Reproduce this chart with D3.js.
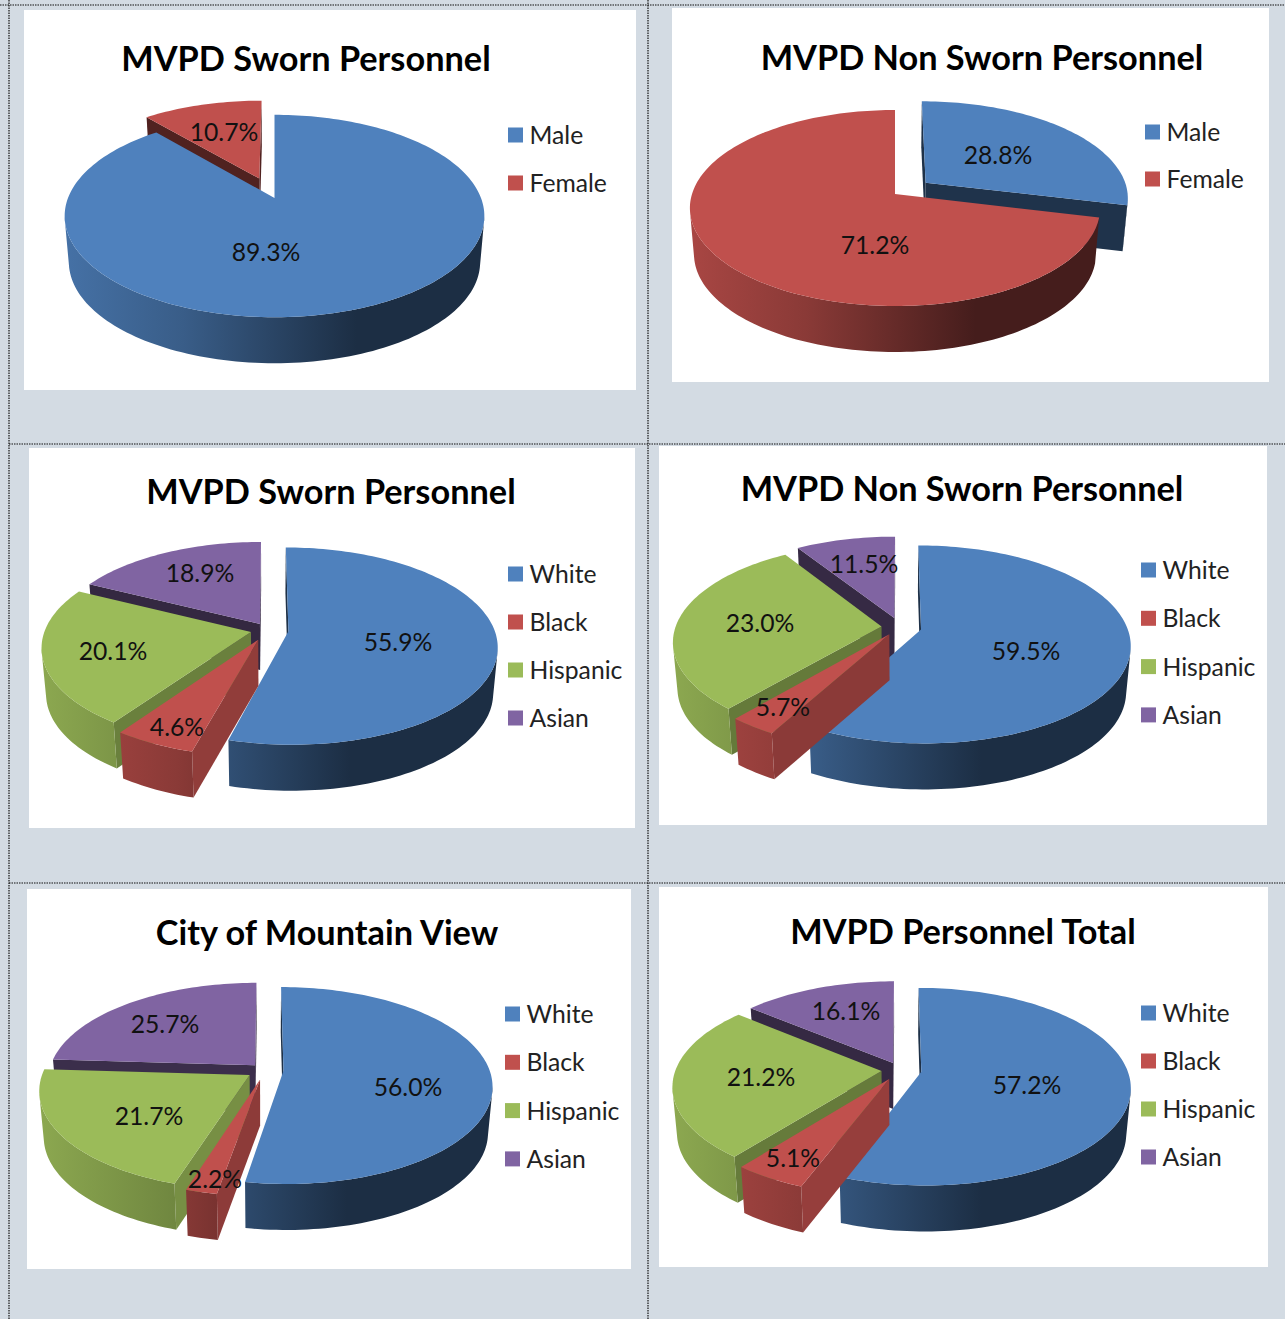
<!DOCTYPE html>
<html><head><meta charset="utf-8">
<script src="https://cdn.jsdelivr.net/npm/d3@7"></script>
<style>html,body{margin:0;padding:0;background:#d3dbe3;overflow:hidden}svg{display:block}text{font-family:Lato,"Open Sans",sans-serif}</style>
</head><body><div id="c"></div>
<script>
// ---- data ----
const sexCategories = ["Male","Female"];
const raceCategories = ["White","Black","Hispanic","Asian"];
const swornSex = [89.3,10.7];
const nonSwornSex = [28.8,71.2];
const swornRace = [55.9,4.6,20.1,18.9];
const nonSwornRace = [59.5,5.7,23.0,11.5];
const cityRace = [56.0,2.2,21.7,25.7];
const totalRace = [57.2,5.1,21.2,16.1];
const titles = ["MVPD Sworn Personnel","MVPD Non Sworn Personnel","MVPD Sworn Personnel","MVPD Non Sworn Personnel","City of Mountain View","MVPD Personnel Total"];
const sexColors = ["#4f81bd","#c0504d"];
const raceColors = ["#4f81bd","#c0504d","#9bbb59","#8064a2"];

// ---- layout ----
const layouts = [
 {vals:swornSex,cats:sexCategories,cols:sexColors,panel:[24,10,612,380],title:[306,59],cx:274.5,cy:198,R:206.5,Rk:98,p:.178,ex:[0,.22],shift:[0,-2],
  legend:[508,135,48],labels:[[266,252],[224,132]]},
 {vals:nonSwornSex,cats:sexCategories,cols:sexColors,panel:[672,8,597,374],title:[982,58],cx:895,cy:194,R:203,Rk:96,p:.143,ex:[.195,0],shift:[0,0],
  legend:[1145,132,47],labels:[[998,155],[875,245]]},
 {vals:swornRace,cats:raceCategories,cols:raceColors,panel:[29,448,606,380],title:[331,492],cx:268,cy:630,R:206,Rk:96,p:.15,ex:[.10,.11,.085,.075],shift:[0,-7,-4,5],
  legend:[508,574,48],labels:[[398,642],[177,727],[113,651],[200,573]]},
 {vals:nonSwornRace,cats:raceCategories,cols:raceColors,panel:[659,446,608,379],title:[962,489],cx:900,cy:627,R:206,Rk:96,p:.15,ex:[.105,.09,.09,.1],shift:[0,-6,-15,9],
  legend:[1141,570,48.3],labels:[[1026,651],[783,707],[760,623],[864,564]]},
 {vals:cityRace,cols:raceColors,cats:raceCategories,panel:[27,889,604,380],title:[327,933],cx:265,cy:1070,R:206,Rk:96,p:.15,ex:[.09,.1,.09,.07],shift:[0,-1,-1,1],
  legend:[505,1014,48.3],labels:[[408,1087],[215,1179],[149,1116],[165,1024]]},
 {vals:totalRace,cols:raceColors,cats:raceCategories,panel:[659,887,609,380],title:[963,932],cx:900,cy:1070,R:206,Rk:96,p:.15,ex:[.105,.105,.09,.08],shift:[0,-6,-7,8],
  legend:[1141,1013,48],labels:[[1027,1085],[793,1158],[761,1077],[846,1011]]}
];
const DEPTH = 46, BOTTOM_SCALE = .98, D2R = Math.PI/180;

const svg = d3.select("#c").append("svg").attr("width",1285).attr("height",1319);
const defs = svg.append("defs");
svg.append("rect").attr("width",1285).attr("height",1319).attr("fill","#d3dbe3");

const line = d3.line();
const cutShade = d3.scaleLinear().domain([100,201,218,290,321]).range([.38,.78,.66,.4,.42]).clamp(true);
const shade = (c,f)=>{const q=d3.rgb(c);return d3.rgb(q.r*f,q.g*f,q.b*f).formatHex();};
const cross = (a,b,c)=>(b[0]-a[0])*(c[1]-a[1])-(b[1]-a[1])*(c[0]-a[0]);
// true when moving straight down from edge a→b leaves the side on which point inner lies
const facesViewer = (a,b,inner)=>{
  const down=[a[0],a[1]+10];
  return cross(a,b,down)*cross(a,b,inner)<0;
};
const oriented = q=> d3.polygonArea(q)<0 ? q.slice().reverse() : q;

layouts.forEach((L,ci)=>{
  const g = svg.append("g");
  g.append("rect").attr("x",L.panel[0]).attr("y",L.panel[1]).attr("width",L.panel[2]).attr("height",L.panel[3]).attr("fill","#fff");
  g.append("text").attr("x",L.title[0]).attr("y",L.title[1]).attr("dy",".36em").attr("text-anchor","middle")
    .attr("font-size",34.3).attr("font-weight",700).attr("fill","#000").text(titles[ci]);

  const pie = d3.pie().sort(null).value(d=>d).startAngle(0).endAngle(2*Math.PI);
  const arcs = pie(L.vals).map((a,i,all)=>{
    const s0 = a.startAngle + L.shift[i]*D2R;
    const s1 = i+1<all.length ? a.endAngle + L.shift[i+1]*D2R : a.endAngle;
    return {i,s0,s1,mid:(s0+s1)/2};
  });
  const project = (u,v)=>{const s=1/(1-L.p*v);return [L.cx+L.R*u*s, L.cy+L.Rk*v*s];};
  const low = q=>[L.cx+(q[0]-L.cx)*BOTTOM_SCALE, q[1]+DEPTH];
  const minX=L.cx-L.R*1.1,maxX=L.cx+L.R*1.1;

  arcs.forEach(a=>{
    const gr=defs.append("linearGradient").attr("id",`g${ci}_${a.i}`).attr("gradientUnits","userSpaceOnUse")
      .attr("x1",minX).attr("x2",maxX).attr("y1",0).attr("y2",0);
    [[0,.9],[.3,.72],[.68,.36],[1,.36]].forEach(s=>gr.append("stop").attr("offset",s[0]).attr("stop-color",shade(L.cols[a.i],s[1])));
  });

  const order = arcs.slice().sort((a,b)=>(-Math.cos(a.mid))-(-Math.cos(b.mid)));
  const pg = g.append("g");
  order.forEach(a=>{
    const e=L.ex[a.i], ou=e*Math.sin(a.mid), ov=-e*Math.cos(a.mid);
    const n=Math.max(2,Math.ceil((a.s1-a.s0)/(1.5*D2R)));
    const rim=d3.range(n+1).map(k=>{const t=a.s0+(a.s1-a.s0)*k/n;return project(ou+Math.sin(t),ov-Math.cos(t));});
    const apex=project(ou,ov), inner=rim[Math.floor(n/2)];
    const c=L.cols[a.i];
    [[rim[0],a.s0],[rim[n],a.s1]].forEach(([tip,ang])=>{
      if(!facesViewer(apex,tip,inner)) return;
      pg.append("path").attr("d",line([apex,tip,low(tip),low(apex)])+"Z").attr("fill",shade(c,cutShade(ang/D2R)));
    });
    // outer wall: swept quads for the rim segments that face the viewer
    let d="";
    for(let k=0;k<n;k++){
      const A=rim[k],B=rim[k+1];
      if(!facesViewer(A,B,apex)) continue;
      d+=line(oriented([A,B,low(B),low(A)]))+"Z";
    }
    if(d) pg.append("path").attr("d",d).attr("fill",`url(#g${ci}_${a.i})`);
    pg.append("path").attr("d",line([apex].concat(rim))+"Z").attr("fill",c);
  });

  L.vals.forEach((v,i)=>{
    g.append("text").attr("x",L.labels[i][0]).attr("y",L.labels[i][1]).attr("dy",".37em").attr("text-anchor","middle")
      .attr("font-size",24.7).attr("fill","#111").text(v.toFixed(1)+"%");
  });
  L.cats.forEach((t,i)=>{
    const y=L.legend[1]+i*L.legend[2];
    g.append("rect").attr("x",L.legend[0]).attr("y",y-7.5).attr("width",15).attr("height",15).attr("fill",L.cols[i]);
    g.append("text").attr("x",L.legend[0]+21.5).attr("y",y).attr("dy",".37em").attr("font-size",24.7).attr("fill","#222").text(t);
  });
});

const rules = [[9,0,9,1319],[648,0,648,1319],[0,5,1285,5],[9,444,1285,444],[9,883,1285,883]];
svg.append("g").selectAll("line").data(rules).join("line")
  .attr("x1",d=>d[0]).attr("y1",d=>d[1]).attr("x2",d=>d[2]).attr("y2",d=>d[3])
  .attr("stroke","#111").attr("stroke-width",1.2).attr("stroke-dasharray","1.5 1");
</script></body></html>
